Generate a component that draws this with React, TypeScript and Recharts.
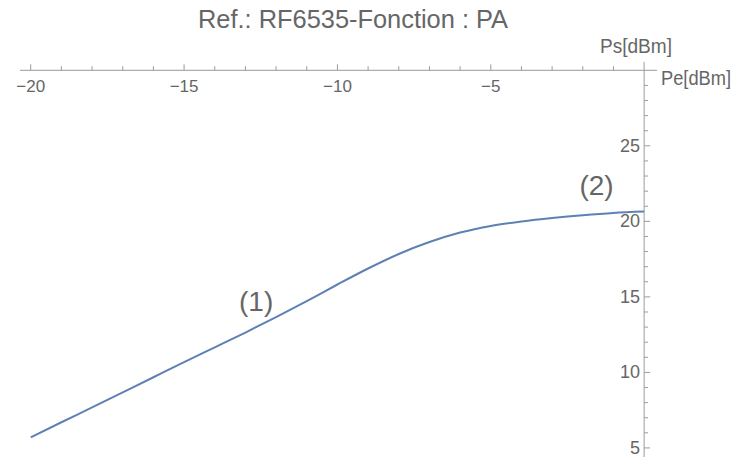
import { LineChart, Line, XAxis, YAxis, ReferenceLine, ReferenceDot } from "recharts";

// Pe (dBm) en entrée, Ps (dBm) en sortie
const pe = [-20, -19, -18, -17, -16, -15, -14, -13, -12, -11, -10, -9, -8, -7, -6, -5, -4, -3, -2, -1, 0];
const ps = [5.7, 6.7, 7.68, 8.68, 9.68, 10.68, 11.66, 12.64, 13.66, 14.72, 15.82, 16.88, 17.84, 18.63, 19.26, 19.7, 19.99, 20.22, 20.41, 20.56, 20.65];

const xTicks = [-20, -19, -18, -17, -16, -15, -14, -13, -12, -11, -10, -9, -8, -7, -6, -5, -4, -3, -2, -1];
const xLabels = [-20, -15, -10, -5];
const yTicks = [5, 6, 7, 8, 9, 10, 11, 12, 13, 14, 15, 16, 17, 18, 19, 20, 21, 22, 23, 24, 25, 26, 27, 28, 29];
const yLabels = [5, 10, 15, 20, 25];

const noteLabels = ["(1)", "(2)"];
const notePe = [-12.65, -1.55];
const notePs = [14.75, 22.4];

const data = pe.map((x, i) => ({ pe: x, ps: ps[i] }));

const W = 740;
const H = 457;
const PLOT = { left: 20, right: 657, top: 62, bottom: 457 };
const X_DOMAIN: [number, number] = [-20.35, 0.42];
const Y_DOMAIN: [number, number] = [4.4, 30.55];

// position des axes (croisement en Pe = 0, Ps = 30)
const axisY = PLOT.top + ((Y_DOMAIN[1] - 30) / (Y_DOMAIN[1] - Y_DOMAIN[0])) * (PLOT.bottom - PLOT.top);
const axisX = PLOT.left + ((0 - X_DOMAIN[0]) / (X_DOMAIN[1] - X_DOMAIN[0])) * (PLOT.right - PLOT.left);

const AXIS = "#9a9a9a";
const TEXT = "#666666";
const FONT = "'Liberation Sans', Arial, sans-serif";

const fmt = (v: number) => (v < 0 ? "\u2212" + Math.abs(v) : String(v));

const XTick = (props: any) => {
    const { x, payload } = props;
    const major = xLabels.includes(payload.value);
    return (
        <g>
            <line x1={x} x2={x} y1={axisY} y2={axisY - (major ? 6 : 4)} stroke={AXIS} strokeWidth={1} />
            {major && (
                <text x={x} y={axisY + 22} textAnchor="middle" fill={TEXT} fontSize={17} fontFamily={FONT}>
                    {fmt(payload.value)}
                </text>
            )}
        </g>
    );
};

const YTick = (props: any) => {
    const { y, payload } = props;
    const major = yLabels.includes(payload.value);
    return (
        <g>
            <line x1={axisX} x2={axisX + (major ? 6 : 4)} y1={y} y2={y} stroke={AXIS} strokeWidth={1} />
            {major && (
                <text x={axisX - 4} y={y + 6} textAnchor="end" fill={TEXT} fontSize={18} fontFamily={FONT}>
                    {payload.value}
                </text>
            )}
        </g>
    );
};

export default function App() {
    return (
        <div style={{ position: "relative", width: W, height: H, background: "#fff" }}>
            <style>{`body{margin:0}`}</style>
            <LineChart
                width={W}
                height={H}
                data={data}
                margin={{ top: PLOT.top - 30, right: W - PLOT.right - 60, left: PLOT.left, bottom: H - PLOT.bottom }}
            >
                <XAxis
                    dataKey="pe"
                    type="number"
                    orientation="top"
                    height={30}
                    domain={X_DOMAIN}
                    allowDataOverflow
                    ticks={xTicks}
                    interval={0}
                    axisLine={false}
                    tickLine={false}
                    tick={<XTick />}
                />
                <YAxis
                    type="number"
                    orientation="right"
                    width={60}
                    domain={Y_DOMAIN}
                    allowDataOverflow
                    ticks={yTicks}
                    interval={0}
                    axisLine={false}
                    tickLine={false}
                    tick={<YTick />}
                />
                <ReferenceLine y={30} stroke={AXIS} strokeWidth={1} />
                <ReferenceLine x={0} stroke={AXIS} strokeWidth={1} />
                <Line
                    type="monotone"
                    dataKey="ps"
                    stroke="#5E81B5"
                    strokeWidth={2}
                    dot={false}
                    isAnimationActive={false}
                />
                {noteLabels.map((t, i) => (
                    <ReferenceDot
                        key={t}
                        x={notePe[i]}
                        y={notePs[i]}
                        r={0}
                        fill="none"
                        stroke="none"
                        label={{ value: t, position: "center", fill: TEXT, fontSize: 28, fontFamily: FONT }}
                    />
                ))}
            </LineChart>
            <svg
                width={W}
                height={H}
                style={{ position: "absolute", left: 0, top: 0, pointerEvents: "none" }}
            >
                <text x={198} y={28} fill={TEXT} fontSize={25} fontFamily={FONT} textLength={310} lengthAdjust="spacingAndGlyphs">
                    Ref.: RF6535-Fonction : PA
                </text>
                <text x={600} y={53} fill={TEXT} fontSize={20} fontFamily={FONT} textLength={72} lengthAdjust="spacingAndGlyphs">
                    Ps[dBm]
                </text>
                <text x={661} y={85} fill={TEXT} fontSize={20} fontFamily={FONT} textLength={70} lengthAdjust="spacingAndGlyphs">
                    Pe[dBm]
                </text>
            </svg>
        </div>
    );
}
